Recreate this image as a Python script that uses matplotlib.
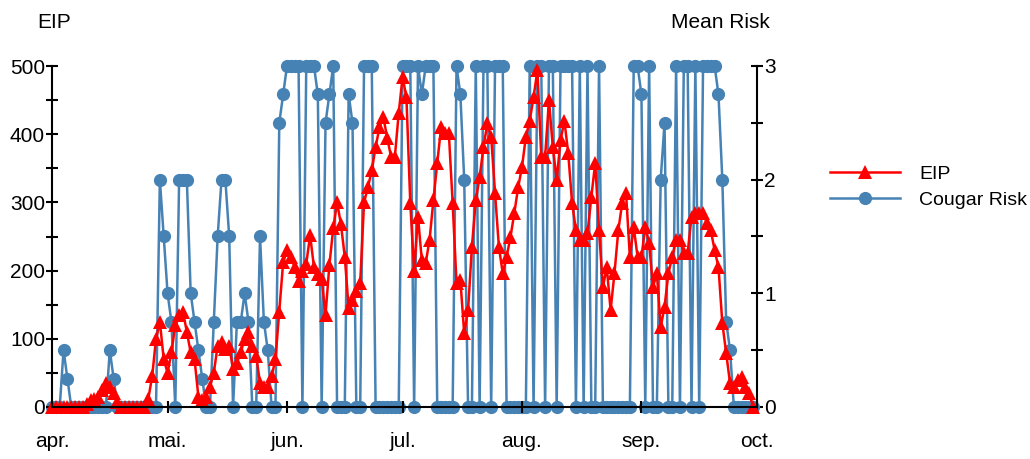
import matplotlib
matplotlib.use("Agg")
import matplotlib.pyplot as plt
import pandas as pd

# Daily series, 1 April to 30 September
start_date = "2000-04-01"

eip = [
    0, 0, 0, 0, 0, 0, 0, 0, 0,
    5, 10, 12, 15, 25, 35, 30, 20, 8,
    0, 0, 0, 0, 0, 0, 0,
    12, 45, 100, 125, 70,
    50, 80, 120, 135, 140, 110, 80, 70, 15, 10,
    15, 30, 50, 90, 95, 85, 90, 55, 65, 80,
    100, 110, 90, 75, 35, 30, 30, 45, 70, 140,
    212, 230, 220, 205, 185, 200, 210, 252, 205, 195,
    188, 135, 208, 262, 300, 268, 220, 145, 157, 170,
    182, 300, 322, 347, 381, 410, 425, 395, 367, 367,
    431, 484, 454, 299, 200, 279, 215, 211, 245, 303,
    358, 410, 402, 402, 299, 182, 186, 108, 142, 235,
    303, 337, 381, 416, 396, 314, 235, 196, 220, 249,
    284, 322, 352, 396, 420, 454, 494, 367, 367, 450,
    381, 333, 391, 420, 372, 299, 259, 245, 245, 255,
    308, 358, 259, 176, 205, 142, 196, 259, 299, 314,
    220, 264, 220, 220, 264, 240, 176, 196, 117, 147,
    196, 220, 245, 245, 226, 226, 279, 284, 284, 284,
    270, 259, 230, 205, 123, 79, 35, 29, 40, 44,
    29, 20, 0,
]

cougar_risk = [
    0, 0, 0, 0.5, 0.25, 0, 0, 0, 0, 0,
    0, 0, 0, 0, 0, 0.5, 0.25, 0, 0, 0,
    0, 0, 0, 0, 0, 0, 0, 0, 2.0, 1.5,
    1.0, 0.75, 0, 2.0, 2.0, 2.0, 1.0, 0.75, 0.5, 0.25,
    0, 0, 0.75, 1.5, 2.0, 2.0, 1.5, 0, 0.75, 0.75,
    1.0, 0.75, 0, 0, 1.5, 0.75, 0.5, 0, 0, 2.5,
    2.75, 3, 3, 3, 3, 0, 3, 3, 3, 2.75,
    0, 2.5, 2.75, 3, 0, 0, 0, 2.75, 2.5, 0,
    0, 3, 3, 3, 0, 0, 0, 0, 0, 0,
    0, 3, 3, 3, 0, 3, 2.75, 3, 3, 3,
    0, 0, 0, 0, 0, 3, 2.75, 2.0, 0, 0,
    3, 0, 3, 3, 0, 3, 3, 3, 0, 0,
    0, 0, 0, 0, 3, 0, 3, 3, 0, 3,
    3, 0, 3, 3, 3, 3, 0, 3, 0, 3,
    0, 0, 3, 0, 0, 0, 0, 0, 0, 0,
    0, 3, 3, 2.75, 0, 3, 0, 0, 2.0, 2.5,
    0, 0, 3, 0, 3, 3, 0, 3, 0, 3,
    3, 3, 3, 2.75, 2.0, 0.75, 0.5, 0, 0, 0,
    0, 0, 0,
]

month_starts = ["2000-04-01", "2000-05-01", "2000-06-01", "2000-07-01",
                "2000-08-01", "2000-09-01", "2000-10-01"]
month_labels = ["apr.", "mai.", "jun.", "jul.", "aug.", "sep.", "oct."]

eip_ticks = [0, 100, 200, 300, 400, 500]
risk_ticks = [0, 1, 2, 3]

dates = pd.date_range(start_date, periods=len(eip), freq="D")

plt.rcParams["font.family"] = ["Liberation Sans", "DejaVu Sans"]
FS = 15

fig = plt.figure(figsize=(10.30, 4.59), dpi=100)
ax = fig.add_axes([52 / 1030, 52 / 459, 705 / 1030, 341 / 459])
ax2 = ax.twinx()

# risk axis sits behind the EIP axis so triangles are drawn on top
ax.set_zorder(ax2.get_zorder() + 1)
ax.patch.set_visible(False)

red = "#ff0000"
blue = "#4682b4"

l2, = ax2.plot(dates, cougar_risk, color=blue, lw=1.8, marker="o",
               markersize=9.5, markeredgewidth=0, label="Cougar Risk",
               clip_on=False)
l1, = ax.plot(dates, eip, color=red, lw=1.8, marker="^",
              markersize=10.5, markeredgewidth=0, label="EIP", clip_on=False)

ax.set_xlim(pd.Timestamp(month_starts[0]), pd.Timestamp(month_starts[-1]))
ax.set_ylim(0, 500)
ax2.set_ylim(0, 3)

for a in (ax, ax2):
    a.spines["top"].set_visible(False)
    for s in ("left", "right", "bottom"):
        a.spines[s].set_linewidth(1.5)
        a.spines[s].set_color("black")

ax.spines["right"].set_visible(False)
ax2.spines["left"].set_visible(False)
ax2.spines["bottom"].set_visible(False)

ax.set_yticks(eip_ticks)
ax.set_yticks(range(50, 500, 100), minor=True)
ax2.set_yticks(risk_ticks)
ax2.set_yticks([0.5, 1.5, 2.5], minor=True)
ax.set_xticks([pd.Timestamp(m) for m in month_starts])
ax.set_xticklabels(month_labels)

for a in (ax, ax2):
    a.tick_params(which="both", direction="inout", length=8, width=1.5,
                  labelsize=FS, colors="black")
ax.tick_params(axis="y", pad=1)
ax2.tick_params(axis="y", pad=1)
ax.tick_params(axis="x", pad=14)

fig.text(37 / 1030, 1 - 22 / 459, "EIP", fontsize=FS, ha="left", va="center")
fig.text(770 / 1030, 1 - 22 / 459, "Mean Risk", fontsize=FS, ha="right", va="center")

fig.legend(handles=[l1, l2], labels=["EIP", "Cougar Risk"],
           loc="upper left", bbox_to_anchor=(830 / 1030, 1 - 165 / 459),
           frameon=False, fontsize=14, handlelength=3.6, handletextpad=1.0,
           labelspacing=0.45, borderaxespad=0, borderpad=0)

fig.savefig("out.png", dpi=100)
